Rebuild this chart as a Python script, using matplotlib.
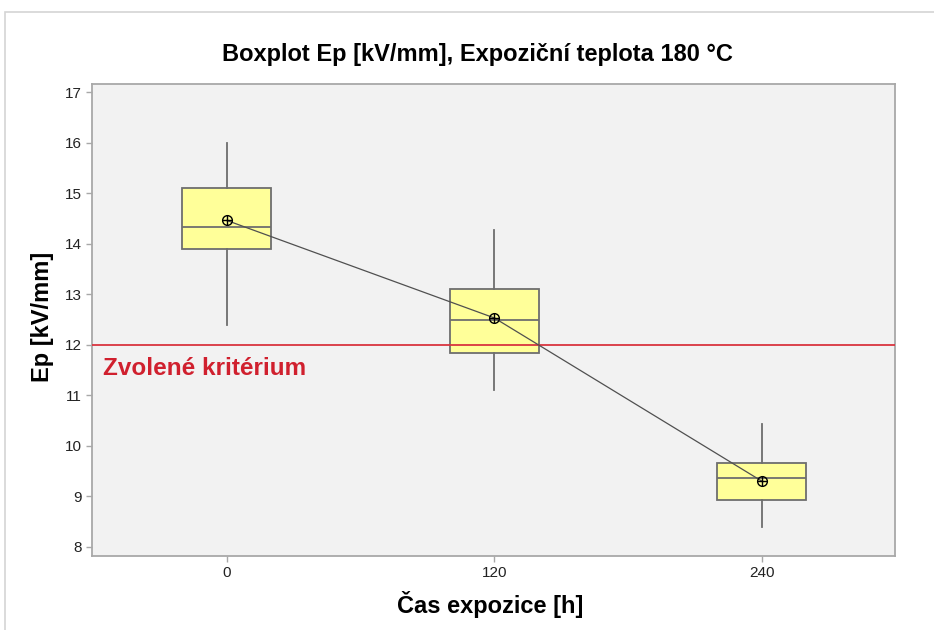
import matplotlib
matplotlib.use("Agg")
import matplotlib.pyplot as plt
from matplotlib.patches import Rectangle

plt.rcParams['font.family'] = ['Liberation Sans', 'DejaVu Sans']

# Data
times = [0, 120, 240]
whisker_low = [12.39, 11.10, 8.40]
q1 = [13.89, 11.83, 8.93]
medians = [14.33, 12.49, 9.36]
q3 = [15.11, 13.10, 9.66]
whisker_high = [16.00, 14.27, 10.43]
means = [14.46, 12.53, 9.30]
criterion = 12.0
xtick_labels = ['0', '120', '240']

title = 'Boxplot Ep [kV/mm], Expoziční teplota 180 °C'
xlabel = 'Čas expozice [h]'
ylabel = 'Ep [kV/mm]'
crit_label = 'Zvolené kritérium'

fig = plt.figure(figsize=(9.34, 6.3), dpi=100)
fig.patch.set_facecolor('white')

# outer frame
fig.add_artist(Rectangle((5/934, -0.1), 1.2, 1 - 12/630 + 0.1, transform=fig.transFigure,
                         fill=False, edgecolor='#d4d4d4', linewidth=1.2))

ax = fig.add_axes([92/934, 1 - 556/630, (895 - 92)/934, (556 - 84)/630])
ax.set_facecolor('#f2f2f2')

stats = []
for i in range(len(times)):
    stats.append(dict(med=medians[i], q1=q1[i], q3=q3[i], whislo=whisker_low[i],
                      whishi=whisker_high[i], mean=means[i], fliers=[]))

ax.bxp(stats, positions=times, widths=40, showcaps=False, showfliers=False,
       patch_artist=True,
       boxprops=dict(facecolor='#ffff99', edgecolor='#6e6e6e', linewidth=1.3),
       medianprops=dict(color='#6e6e6e', linewidth=1.3),
       whiskerprops=dict(color='#6e6e6e', linewidth=1.3),
       manage_ticks=False)

ax.plot(times, means, color='#505050', linewidth=0.9, zorder=4)
ax.plot(times, means, linestyle='none', marker='o', markersize=7, markerfacecolor='none',
        markeredgecolor='black', markeredgewidth=1.0, zorder=5)
ax.plot(times, means, linestyle='none', marker='+', markersize=7, color='black',
        markeredgewidth=1.0, zorder=5)

ax.axhline(criterion, color='#d9343f', linewidth=1.3, zorder=3)
ax.text(-55.5, criterion - 0.46, crit_label, color='#d0202e', fontsize=17.5, fontweight='bold',
        ha='left', va='center')

ax.set_xlim(-60.5, 299.7)
ax.set_ylim(7.82, 17.16)
ax.set_yticks(range(8, 18))
ax.set_xticks(times)
ax.set_xticklabels(xtick_labels)

for sp in ax.spines.values():
    sp.set_color('#a8a8a8')
    sp.set_linewidth(1.3)
ax.tick_params(axis='both', colors='#a8a8a8', labelcolor='#222222', labelsize=11,
               length=4, width=1)

fig.text(477/934, 1 - 55/630, title, ha='center', va='center', fontsize=17, fontweight='bold')
fig.text(42/934, 1 - 317/630, ylabel, ha='center', va='center', rotation=90, fontsize=17,
         fontweight='bold')
fig.text(490/934, 1 - 605/630, xlabel, ha='center', va='center', fontsize=17, fontweight='bold')

fig.savefig('out.png', dpi=100)
